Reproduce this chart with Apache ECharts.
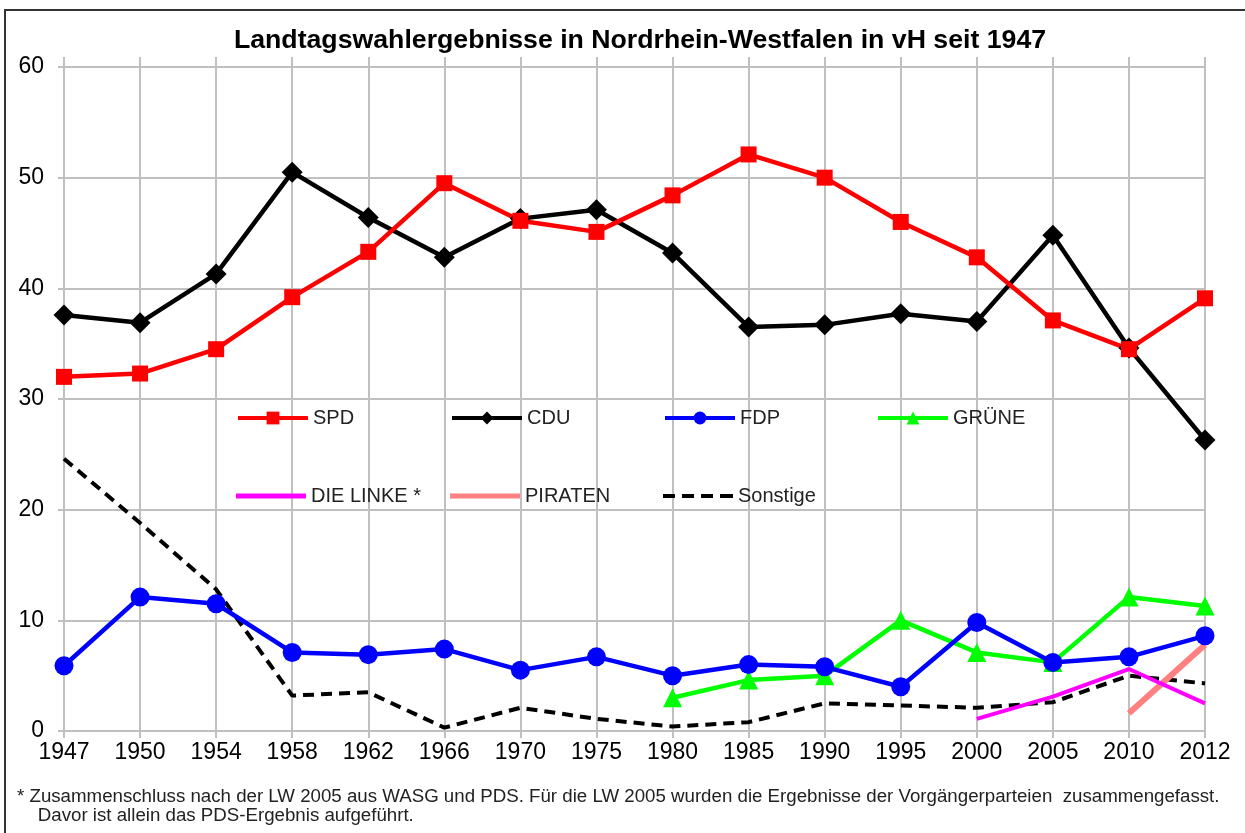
<!DOCTYPE html>
<html>
<head>
<meta charset="utf-8">
<title>Landtagswahlergebnisse NRW</title>
<script src="https://cdn.jsdelivr.net/npm/echarts@6/dist/echarts.min.js"></script>
<style>
  html, body { margin: 0; padding: 0; background: #fff; }
  #chart { width: 1245px; height: 833px; }
</style>
</head>
<body>
<div id="chart"></div>
<script>
// Wahljahre
const years = ['1947', '1950', '1954', '1958', '1962', '1966', '1970', '1975', '1980', '1985', '1990', '1995', '2000', '2005', '2010', '2012'];

// Ergebnisse in vH
const spd      = [32.0, 32.3, 34.5, 39.2, 43.3, 49.5, 46.1, 45.1, 48.4, 52.1, 50.0, 46.0, 42.8, 37.1, 34.5, 39.1];
const cdu      = [37.6, 36.9, 41.3, 50.5, 46.4, 42.8, 46.3, 47.1, 43.2, 36.5, 36.7, 37.7, 37.0, 44.8, 34.6, 26.3];
const fdp      = [5.9, 12.1, 11.5, 7.1, 6.9, 7.4, 5.5, 6.7, 5.0, 6.0, 5.8, 4.0, 9.8, 6.2, 6.7, 8.6];
const gruene   = [null, null, null, null, null, null, null, null, 3.0, 4.6, 5.0, 10.0, 7.1, 6.2, 12.1, 11.3];
const linke    = [null, null, null, null, null, null, null, null, null, null, null, null, 1.1, 3.1, 5.6, 2.5];
const piraten  = [null, null, null, null, null, null, null, null, null, null, null, null, null, null, 1.6, 7.8];
const sonstige = [24.6, 18.8, 12.8, 3.2, 3.5, 0.3, 2.1, 1.1, 0.4, 0.8, 2.5, 2.3, 2.1, 2.6, 5.0, 4.3];

const yTicks = [0, 10, 20, 30, 40, 50, 60];

const FONT = 'Liberation Sans, Arial, sans-serif';
const GRID_COLOR = '#c0c0c0';

// Legendensymbole fuer Reihen ohne Marker
const solidBar = 'path://M0,0h70v5h-70z';
const dashBar = 'path://M0,0h12v4h-12z M19,0h12v4h-12z M38,0h12v4h-12z M57,0h13v4h-13z';

const chart = echarts.init(document.getElementById('chart'));

function legendAt(name, left, top, icon) {
  const item = icon ? { name: name, icon: icon } : { name: name };
  return {
    data: [item],
    left: left,
    top: top,
    orient: 'horizontal',
    itemWidth: 70,
    itemHeight: 16,
    itemGap: 0,
    padding: 0,
    selectedMode: false,
    lineStyle: { width: 4 },
    itemStyle: { borderWidth: 0 },
    textStyle: { fontFamily: FONT, fontSize: 20, color: '#222' }
  };
}

function lineSeries(name, data, color, extra) {
  return Object.assign({
    name: name,
    type: 'line',
    data: data,
    color: color,
    lineStyle: { color: color, width: 4.5 },
    itemStyle: { color: color },
    symbol: 'none',
    connectNulls: false,
    animation: false
  }, extra);
}

const option = {
  backgroundColor: '#fff',
  animation: false,
  title: [
    {
      text: 'Landtagswahlergebnisse in Nordrhein-Westfalen in vH seit 1947',
      left: 640,
      top: 27,
      textAlign: 'center',
      padding: 0,
      textStyle: { fontFamily: FONT, fontSize: 26.7, fontWeight: 'bold', color: '#000' }
    },
    {
      text: '* Zusammenschluss nach der LW 2005 aus WASG und PDS. Für die LW 2005 wurden die Ergebnisse der Vorgängerparteien  zusammengefasst.\n    Davor ist allein das PDS-Ergebnis aufgeführt.',
      left: 17,
      top: 787,
      padding: 0,
      textStyle: { fontFamily: FONT, fontSize: 18.7, fontWeight: 'normal', color: '#222', lineHeight: 19 }
    }
  ],
  graphic: [{
    type: 'rect',
    shape: { x: 5, y: 10, width: 1300, height: 900 },
    style: { fill: 'none', stroke: '#333', lineWidth: 2 },
    silent: true
  }],
  legend: [
    legendAt('SPD', 236, 408),
    legendAt('CDU', 450, 408),
    legendAt('FDP', 663, 408),
    legendAt('GRÜNE', 876, 408),
    legendAt('DIE LINKE *', 236, 486, solidBar),
    legendAt('PIRATEN', 450, 486, solidBar),
    legendAt('Sonstige', 663, 486, dashBar)
  ],
  grid: { left: 64, right: 40, top: 67, bottom: 102 },
  xAxis: [
    {
      type: 'category',
      data: years,
      boundaryGap: false,
      axisLine: { show: true, lineStyle: { color: GRID_COLOR, width: 2 } },
      axisTick: { show: true, length: 7, lineStyle: { color: GRID_COLOR, width: 2 } },
      splitLine: { show: true, lineStyle: { color: GRID_COLOR, width: 2 } },
      axisLabel: { fontFamily: FONT, fontSize: 23, color: '#000', margin: 10 }
    },
    {
      type: 'category',
      data: years,
      position: 'top',
      boundaryGap: false,
      axisLine: { show: false },
      axisTick: { show: true, length: 10, lineStyle: { color: GRID_COLOR, width: 2 } },
      axisLabel: { show: false },
      splitLine: { show: false }
    }
  ],
  yAxis: {
    type: 'value',
    min: yTicks[0],
    max: yTicks[yTicks.length - 1],
    interval: 10,
    axisLine: { show: true, lineStyle: { color: GRID_COLOR, width: 2 } },
    axisTick: { show: true, length: 6, lineStyle: { color: GRID_COLOR, width: 2 } },
    splitLine: { show: true, lineStyle: { color: GRID_COLOR, width: 2 } },
    axisLabel: { fontFamily: FONT, fontSize: 23, color: '#000', margin: 20 }
  },
  series: [
    lineSeries('Sonstige', sonstige, '#000', {
      lineStyle: { color: '#000', width: 4, type: [11, 7] }
    }),
    lineSeries('PIRATEN', piraten, '#ff8080', { lineStyle: { color: '#ff8080', width: 6 } }),
    lineSeries('DIE LINKE *', linke, '#ff00ff', { lineStyle: { color: '#ff00ff', width: 4 } }),
    lineSeries('GRÜNE', gruene, '#00ff00', { symbol: 'triangle', symbolSize: 19 }),
    lineSeries('FDP', fdp, '#0000ff', { symbol: 'circle', symbolSize: 19 }),
    lineSeries('CDU', cdu, '#000', { symbol: 'diamond', symbolSize: 21 }),
    lineSeries('SPD', spd, '#ff0000', { symbol: 'rect', symbolSize: 16 })
  ]
};

chart.setOption(option);
</script>
</body>
</html>
